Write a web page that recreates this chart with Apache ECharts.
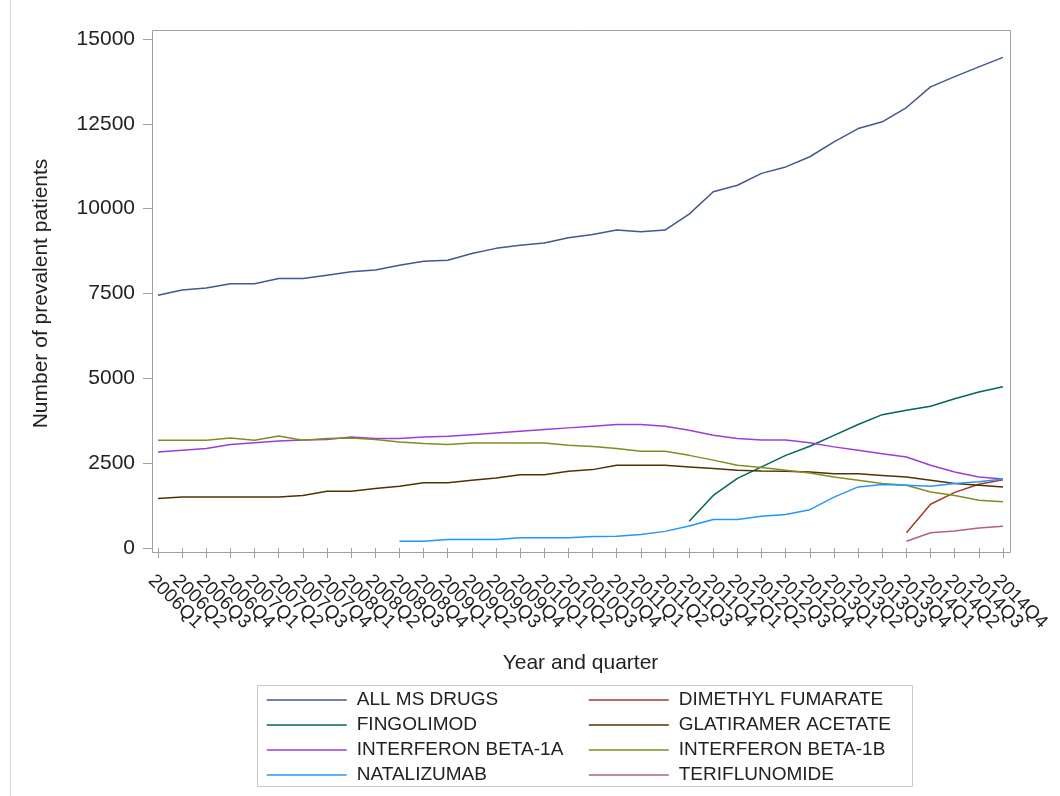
<!DOCTYPE html>
<html>
<head>
<meta charset="utf-8">
<title>Prevalent patients by MS drug</title>
<script src="https://cdn.jsdelivr.net/npm/echarts@6/dist/echarts.min.js"></script>
<style>
  html, body { margin: 0; padding: 0; background: #ffffff; }
  #chart { width: 1060px; height: 796px; }
</style>
</head>
<body>
<div id="chart"></div>
<script>
// Quarters on the x axis
const quarters = [
  '2006Q1','2006Q2','2006Q3','2006Q4','2007Q1','2007Q2','2007Q3','2007Q4',
  '2008Q1','2008Q2','2008Q3','2008Q4','2009Q1','2009Q2','2009Q3','2009Q4',
  '2010Q1','2010Q2','2010Q3','2010Q4','2011Q1','2011Q2','2011Q3','2011Q4',
  '2012Q1','2012Q2','2012Q3','2012Q4','2013Q1','2013Q2','2013Q3','2013Q4',
  '2014Q1','2014Q2','2014Q3','2014Q4'
];

// Number of prevalent patients per drug (null = not yet on the market)
const allMsDrugs = [7450,7600,7665,7790,7790,7940,7940,8040,8140,8190,8330,8450,8480,8680,8830,8920,8990,9140,9240,9370,9320,9370,9840,10500,10690,11040,11230,11530,11970,12360,12560,12980,13590,13890,14180,14460];
const dimethylFumarate = [null,null,null,null,null,null,null,null,null,null,null,null,null,null,null,null,null,null,null,null,null,null,null,null,null,null,null,null,null,null,null,450,1290,1640,1880,2010];
const fingolimod = [null,null,null,null,null,null,null,null,null,null,null,null,null,null,null,null,null,null,null,null,null,null,790,1550,2050,2390,2730,3000,3320,3640,3930,4060,4180,4400,4600,4750];
const glatiramerAcetate = [1460,1500,1500,1500,1500,1500,1550,1670,1670,1750,1820,1920,1920,2000,2060,2160,2160,2260,2310,2440,2440,2440,2390,2340,2290,2270,2260,2240,2190,2190,2140,2090,2000,1900,1850,1800];
const interferonBeta1a = [2830,2880,2930,3050,3100,3150,3180,3200,3270,3230,3230,3270,3290,3340,3390,3440,3490,3540,3590,3640,3640,3590,3470,3320,3230,3180,3180,3100,2980,2880,2780,2680,2440,2240,2090,2030];
const interferonBeta1b = [3175,3175,3175,3240,3175,3300,3175,3225,3240,3200,3125,3080,3050,3095,3095,3095,3095,3030,2990,2930,2850,2850,2730,2590,2440,2370,2290,2210,2090,2000,1900,1850,1650,1550,1410,1360];
const natalizumab = [null,null,null,null,null,null,null,null,null,null,200,200,250,250,250,300,300,300,340,345,395,490,650,840,840,935,985,1130,1500,1800,1870,1850,1820,1900,1950,2030];
const teriflunomide = [null,null,null,null,null,null,null,null,null,null,null,null,null,null,null,null,null,null,null,null,null,null,null,null,null,null,null,null,null,null,null,200,450,500,590,640];

// Y axis ticks
const yMin = 0, yMax = 15000, yStep = 2500;

const seriesDefs = [
  { name: 'ALL MS DRUGS',       data: allMsDrugs,        color: '#445694' },
  { name: 'DIMETHYL FUMARATE',  data: dimethylFumarate,  color: '#A23A2E' },
  { name: 'FINGOLIMOD',         data: fingolimod,        color: '#01665E' },
  { name: 'GLATIRAMER ACETATE', data: glatiramerAcetate, color: '#543005' },
  { name: 'INTERFERON BETA-1A', data: interferonBeta1a,  color: '#9D3CDB' },
  { name: 'INTERFERON BETA-1B', data: interferonBeta1b,  color: '#7F8E1F' },
  { name: 'NATALIZUMAB',        data: natalizumab,       color: '#2597FA' },
  { name: 'TERIFLUNOMIDE',      data: teriflunomide,     color: '#B26084' }
];

const FONT = '"Liberation Sans", Arial, sans-serif';
const AXIS_GRAY = '#a0a0a0';
const TEXT = '#222222';

// Line-only legend keys, two columns inside one box
const legendCommon = {
  orient: 'vertical',
  padding: 0,
  itemWidth: 80,
  itemHeight: 14,
  itemGap: 5,
  selectedMode: false,
  itemStyle: { opacity: 0 },
  lineStyle: { width: 1.5 },
  textStyle: { fontFamily: FONT, fontSize: 19, color: TEXT, lineHeight: 20, padding: [0, 0, 0, 5] }
};

const chart = echarts.init(document.getElementById('chart'), null, { renderer: 'canvas' });

chart.setOption({
  animation: false,
  backgroundColor: '#ffffff',
  grid: {
    left: 158, right: 57, top: 39, bottom: 248,
    outerBoundsMode: 'none'
  },
  xAxis: {
    type: 'category',
    data: quarters,
    boundaryGap: false,
    offset: 5,
    name: 'Year and quarter',
    nameLocation: 'middle',
    nameGap: 100,
    nameTextStyle: { fontFamily: FONT, fontSize: 21, color: TEXT },
    axisLine: { show: false },
    axisTick: { show: true, alignWithLabel: true, length: 10, inside: false, lineStyle: { color: AXIS_GRAY, width: 1 } },
    axisLabel: { interval: 0, rotate: -45, margin: 18, verticalAlign: 'top', fontFamily: FONT, fontSize: 19, color: TEXT },
    splitLine: { show: false }
  },
  yAxis: {
    type: 'value',
    min: yMin, max: yMax, interval: yStep,
    offset: 6,
    name: 'Number of prevalent patients',
    nameLocation: 'middle',
    nameRotate: 90,
    nameGap: 100,
    nameTextStyle: { fontFamily: FONT, fontSize: 21, color: TEXT },
    axisLine: { show: false },
    axisTick: { show: true, length: 9, inside: false, lineStyle: { color: AXIS_GRAY, width: 1 } },
    axisLabel: { margin: 17, fontFamily: FONT, fontSize: 21, color: TEXT, formatter: v => String(v) },
    splitLine: { show: false }
  },
  legend: [
    Object.assign({}, legendCommon, {
      left: 266, top: 690,
      data: ['ALL MS DRUGS', 'FINGOLIMOD', 'INTERFERON BETA-1A', 'NATALIZUMAB']
    }),
    Object.assign({}, legendCommon, {
      left: 588, top: 690,
      data: ['DIMETHYL FUMARATE', 'GLATIRAMER ACETATE', 'INTERFERON BETA-1B', 'TERIFLUNOMIDE']
    })
  ],
  graphic: [
    // plot frame
    { type: 'rect', silent: true, z: 0,
      shape: { x: 152.5, y: 30.5, width: 858, height: 522 },
      style: { fill: null, stroke: AXIS_GRAY, lineWidth: 1 } },
    // legend box
    { type: 'rect', silent: true, z: 0,
      shape: { x: 257.5, y: 685.5, width: 655, height: 101 },
      style: { fill: null, stroke: '#c8c8c8', lineWidth: 1 } },
    // outer page edge
    { type: 'line', silent: true, z: 0,
      shape: { x1: 10.5, y1: 0, x2: 10.5, y2: 796 },
      style: { stroke: '#d6d6d6', lineWidth: 1 } }
  ],
  series: seriesDefs.map(s => ({
    type: 'line',
    name: s.name,
    data: s.data,
    symbol: 'none',
    showSymbol: false,
    connectNulls: false,
    color: s.color,
    lineStyle: { color: s.color, width: 1.5 },
    emphasis: { disabled: true }
  }))
});
</script>
</body>
</html>
